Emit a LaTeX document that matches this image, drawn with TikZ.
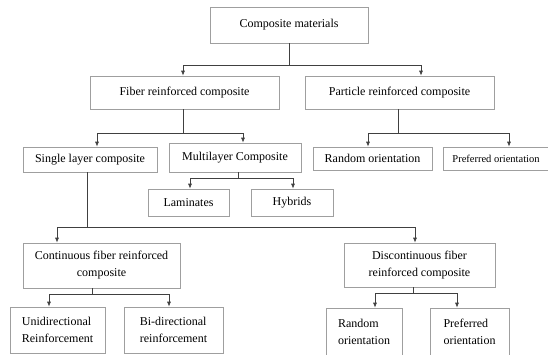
\documentclass[tikz,border=0pt]{standalone}
\usepackage{fontspec}
\setmainfont{Liberation Serif}
\usetikzlibrary{arrows.meta}

\begin{document}
\begin{tikzpicture}[x=1pt,y=-1pt,
  box/.style={draw=gray!75,line width=0.6pt,inner sep=2pt,font=\fontsize{12}{17}\selectfont},
  link/.style={black!75,line width=0.7pt},
  arr/.style={link,-{Latex[length=5pt,width=4pt]}}]
  \useasboundingbox (0,0) rectangle (548,355);
  % top levels
  \node[box,minimum width=158,minimum height=36] (comp) at (289,25) {Composite materials};
  \node[box,minimum width=189,minimum height=33] (fiber) at (184.5,92.5) {Fiber reinforced composite};
  \node[box,minimum width=189,minimum height=33] (particle) at (399.5,92.5) {Particle reinforced composite};
  % second row
  \node[box,minimum width=134,minimum height=25] (single) at (90,159.5) {Single layer composite};
  \node[box,minimum width=132,minimum height=29] (multi) at (235,157.5) {Multilayer Composite};
  \node[box,minimum width=119,minimum height=23] (randA) at (372.5,158.5) {Random orientation};
  \node[box,minimum width=106,minimum height=23,font=\fontsize{10.5}{13}\selectfont] (prefA) at (496,158.5) {Preferred orientation};
  \node[box,minimum width=81,minimum height=27] (lam) at (188.5,202.5) {Laminates};
  \node[box,minimum width=82,minimum height=27] (hyb) at (292,202.5) {Hybrids};
  % fibre lengths
  \node[box,align=center,minimum width=157,minimum height=45] (cont) at (101.5,265.5) {Continuous fiber reinforced\\composite};
  \node[box,align=center,minimum width=151,minimum height=44] (disc) at (419.5,265) {Discontinuous fiber\\reinforced composite};
  % bottom row
  \node[box,align=left,minimum width=95,minimum height=46] (uni) at (57.5,330) {Unidirectional\\Reinforcement};
  \node[box,align=left,minimum width=99,minimum height=46] (bi) at (173.5,330) {Bi-directional\\reinforcement};
  \node[box,align=left,minimum width=76,minimum height=47] (randB) at (364,331.5) {Random\\orientation};
  \node[box,align=left,minimum width=79,minimum height=47] (prefB) at (469.5,331.5) {Preferred\\orientation};

  % connectors
  \coordinate (j0) at (289,65);
  \draw[link] (comp.south) -- (j0);
  \draw[arr] (j0) -| ([xshift=-1.5]fiber.north);
  \draw[arr] (j0) -| ([xshift=21.5]particle.north);

  \coordinate (j1) at (183,133);
  \draw[link] (j1 |- fiber.south) -- (j1);
  \draw[arr] (j1) -| ([xshift=7]single.north);
  \draw[arr] (j1) -| ([xshift=8]multi.north);

  \coordinate (j2) at (398,133);
  \draw[link] (j2 |- particle.south) -- (j2);
  \draw[arr] (j2) -| ([xshift=-4.5]randA.north);
  \draw[arr] (j2) -| ([xshift=13]prefA.north);

  \coordinate (j3) at (238,178);
  \draw[link] (j3 |- multi.south) -- (j3);
  \draw[arr] (j3) -| ([xshift=1.5]lam.north);
  \draw[arr] (j3) -| ([xshift=1]hyb.north);

  \coordinate (j4) at (87,227);
  \draw[link] (j4 |- single.south) -- (j4);
  \draw[arr] (j4) -| ([xshift=-44.5]cont.north);
  \draw[arr] (j4) -| ([xshift=-4.5]disc.north);

  \coordinate (j5) at (92,294);
  \draw[link] (j5 |- cont.south) -- (j5);
  \draw[arr] (j5) -| ([xshift=-8.5]uni.north);
  \draw[arr] (j5) -| ([xshift=-4.5]bi.north);

  \coordinate (j6) at (413,293);
  \draw[link] (j6 |- disc.south) -- (j6);
  \draw[arr] (j6) -| ([xshift=11]randB.north);
  \draw[arr] (j6) -| ([xshift=-12.5]prefB.north);
\end{tikzpicture}
\end{document}
